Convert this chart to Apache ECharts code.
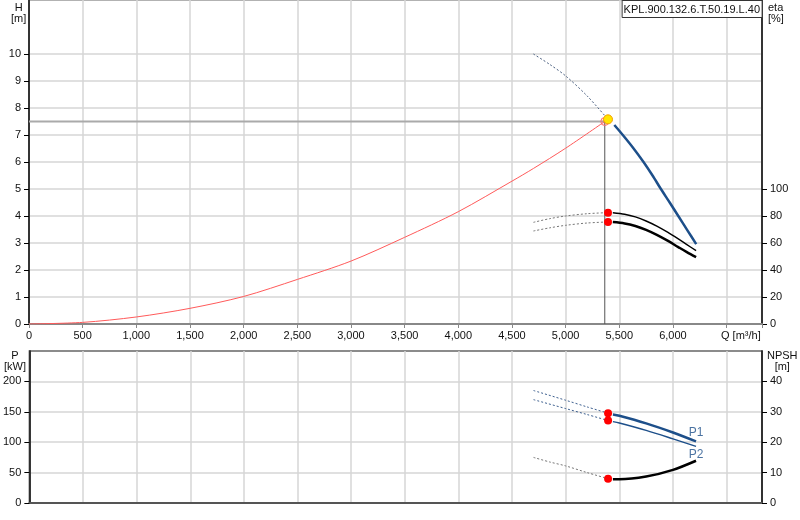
<!DOCTYPE html>
<html>
<head>
<meta charset="utf-8">
<script src="https://cdn.jsdelivr.net/npm/echarts@6/dist/echarts.min.js"></script>
<style>html,body{margin:0;padding:0;background:#fff;}#c{width:800px;height:520px;}</style>
</head>
<body>
<div id="c"></div>
<script>
// ---- data ----
const pumpName = 'KPL.900.132.6.T.50.19.L.40';
const xTickLabels = [0, 500, 1000, 1500, 2000, 2500, 3000, 3500, 4000, 4500, 5000, 5500, 6000];
const hTickLabels = [0, 1, 2, 3, 4, 5, 6, 7, 8, 9, 10];
const etaTickLabels = [0, 20, 40, 60, 80, 100];
const pTickLabels = [0, 50, 100, 150, 200];
const npshTickLabels = [0, 10, 20, 30, 40];

// H curve (m)
const hDotted = [[4700, 10.0], [4850, 9.62], [5000, 9.19], [5200, 8.45], [5395, 7.58]];
const hSolid = [[5454, 7.37], [5533, 7.0], [5630, 6.52], [5726, 6.0], [5810, 5.5], [5888, 5.0], [5970, 4.5], [6050, 4.0], [6135, 3.47], [6217, 2.96]];
// efficiency curves (%)
const eta1Dotted = [[4700, 75.3], [4850, 78.0], [5000, 80.0], [5200, 81.7], [5395, 82.5]];
const eta1Solid = [[5440, 82.4], [5550, 81.3], [5650, 79.3], [5750, 76.3], [5850, 72.5], [5950, 68.0], [6050, 63.0], [6130, 58.8], [6216, 54.3]];
const eta2Dotted = [[4700, 68.9], [4850, 71.2], [5000, 73.1], [5200, 74.8], [5395, 75.6]];
const eta2Solid = [[5440, 75.5], [5550, 74.5], [5650, 72.6], [5750, 69.7], [5850, 66.0], [5950, 61.7], [6050, 57.0], [6130, 53.3], [6216, 49.6]];
// power curves (kW)
const p1Dotted = [[4700, 185], [5000, 169], [5200, 158], [5395, 147.7]];
const p1Solid = [[5440, 145.5], [5500, 143.5], [5750, 131], [6000, 116], [6215, 101.3]];
const p2Dotted = [[4700, 170], [5000, 155.3], [5200, 145.5], [5395, 135.6]];
const p2Solid = [[5440, 133.8], [5500, 131.5], [5750, 119.5], [6000, 105.5], [6215, 93]];
// NPSH (m)
const npshDotted = [[4700, 15.0], [4850, 13.5], [5000, 12.2], [5200, 10.0], [5395, 8.0]];
const npshSolid = [[5440, 7.8], [5500, 7.8], [5750, 8.7], [6000, 10.9], [6215, 13.9]];
// system curve
const sysQ = [0, 500, 1000, 1500, 2000, 2500, 3000, 3500, 4000, 4500, 4700, 5000, 5365];
const sysH = [0, 0.06, 0.26, 0.58, 1.02, 1.65, 2.33, 3.21, 4.16, 5.29, 5.76, 6.51, 7.5];
// required & duty points
const reqQ = 5365, reqH = 7.5;
const dutyQ = 5395, dutyH = 7.58, dutyEta1 = 82.5, dutyEta2 = 75.6, dutyP1 = 147.7, dutyP2 = 135.6, dutyNPSH = 8.0;

// ---- chart ----
const FONT = 'Liberation Sans, Arial, sans-serif';
const TXT = '#111';
const BLUE = '#1d4f8a';
const GRID_C = '#d6d6d6';
const chart = echarts.init(document.getElementById('c'), null, {renderer: 'canvas'});

function fmtNum(v) { return v.toLocaleString('en-US'); }
function dotted(data, xi, yi, color) {
  return {type: 'line', xAxisIndex: xi, yAxisIndex: yi, data: data, smooth: 0.3, symbol: 'none', silent: true,
    lineStyle: {color: color, width: 1, type: [2, 2]}, z: 3};
}
function solid(data, xi, yi, color, w) {
  return {type: 'line', xAxisIndex: xi, yAxisIndex: yi, data: data, smooth: 0.3, symbol: 'none', silent: true,
    lineStyle: {color: color, width: w}, z: 4};
}
function dot(pt, xi, yi) {
  return {type: 'scatter', xAxisIndex: xi, yAxisIndex: yi, data: [pt], symbolSize: 8, silent: true,
    itemStyle: {color: '#ff0000', opacity: 1}, z: 6};
}
function endLabel(data, text, pos, xi, yi) {
  return {type: 'scatter', xAxisIndex: xi, yAxisIndex: yi, data: [data[data.length - 1]], symbolSize: 1, silent: true,
    itemStyle: {color: 'rgba(0,0,0,0)'},
    label: {show: true, formatter: text, position: pos, distance: 2, color: BLUE, fontFamily: FONT, fontSize: 12}, z: 8};
}

const xCommon = {
  type: 'value', min: 0, max: 6830, interval: 500,
  splitLine: {show: true, lineStyle: {color: GRID_C, width: 1.5}}
};

const option = {
  animation: false,
  backgroundColor: '#fff',
  title: {
    text: pumpName, right: 38, top: 0,
    backgroundColor: '#fff', borderColor: '#333', borderWidth: 1, padding: [4, 2, 3, 2],
    textStyle: {fontFamily: FONT, fontSize: 11, fontWeight: 'normal', color: '#111'}, z: 10
  },
  grid: [
    {left: 29, top: 0, width: 733, height: 324, show: true, borderColor: '#999', borderWidth: 1.5, backgroundColor: 'transparent'},
    {left: 29, top: 351, width: 733, height: 152, show: true, borderColor: '#666', borderWidth: 1.5, backgroundColor: 'transparent'}
  ],
  xAxis: [
    Object.assign({}, xCommon, {
      gridIndex: 0,
      axisLine: {show: true, onZero: false, lineStyle: {color: '#888', width: 2}},
      axisTick: {show: true, length: 4, lineStyle: {color: '#888'}},
      axisLabel: {show: true, customValues: xTickLabels, margin: 6, color: TXT, fontFamily: FONT, fontSize: 11,
        formatter: v => (v % 500 === 0 && v <= 6000) ? fmtNum(v) : ''}
    }),
    Object.assign({}, xCommon, {
      gridIndex: 1,
      axisLine: {show: true, onZero: false, lineStyle: {color: '#555', width: 2}},
      axisTick: {show: false},
      axisLabel: {show: false}
    })
  ],
  yAxis: [
    {type: 'value', gridIndex: 0, min: 0, max: 12, interval: 1, position: 'left',
      axisLine: {show: true, lineStyle: {color: '#000', width: 1.5}},
      axisTick: {show: true, customValues: hTickLabels, length: 5, lineStyle: {color: '#000'}},
      axisLabel: {customValues: hTickLabels, margin: 8, color: TXT, fontFamily: FONT, fontSize: 11,
        formatter: v => v <= 10 ? String(v) : ''},
      splitLine: {show: true, lineStyle: {color: GRID_C, width: 1.5}}},
    {type: 'value', gridIndex: 0, min: 0, max: 240, interval: 20, position: 'right',
      axisLine: {show: true, lineStyle: {color: '#000', width: 1.5}},
      axisTick: {show: true, customValues: etaTickLabels, length: 5, lineStyle: {color: '#000'}},
      axisLabel: {customValues: etaTickLabels, margin: 8, color: TXT, fontFamily: FONT, fontSize: 11,
        formatter: v => v <= 100 ? String(v) : ''},
      splitLine: {show: false}},
    {type: 'value', gridIndex: 1, min: 0, max: 250, interval: 50, position: 'left',
      axisLine: {show: true, lineStyle: {color: '#000', width: 1.5}},
      axisTick: {show: true, customValues: pTickLabels, length: 5, lineStyle: {color: '#000'}},
      axisLabel: {customValues: pTickLabels, margin: 8, color: TXT, fontFamily: FONT, fontSize: 11,
        formatter: v => v <= 200 ? String(v) : ''},
      splitLine: {show: true, lineStyle: {color: GRID_C, width: 1.5}}},
    {type: 'value', gridIndex: 1, min: 0, max: 50, interval: 10, position: 'right',
      axisLine: {show: true, lineStyle: {color: '#000', width: 1.5}},
      axisTick: {show: true, customValues: npshTickLabels, length: 5, lineStyle: {color: '#000'}},
      axisLabel: {customValues: npshTickLabels, margin: 8, color: TXT, fontFamily: FONT, fontSize: 11,
        formatter: v => v <= 40 ? String(v) : ''},
      splitLine: {show: false}}
  ],
  graphic: [
    {type: 'text', left: 11, top: 2, style: {text: 'H\n[m]', fill: TXT, font: '11px ' + FONT, textAlign: 'center', lineHeight: 11.5, x: 6}},
    {type: 'text', left: 768, top: 2, style: {text: 'eta\n[%]', fill: TXT, font: '11px ' + FONT, lineHeight: 11.5}},
    {type: 'text', left: 4, top: 350, style: {text: 'P\n[kW]', fill: TXT, font: '11px ' + FONT, textAlign: 'center', lineHeight: 11, x: 10}},
    {type: 'text', left: 767, top: 350, style: {text: 'NPSH\n[m]', fill: TXT, font: '11px ' + FONT, textAlign: 'center', lineHeight: 11, x: 14}},
    {type: 'text', left: 721, top: 330, style: {text: 'Q [m³/h]', fill: TXT, font: '11px ' + FONT}}
  ],
  series: [
    // crosshair at required point
    {type: 'line', xAxisIndex: 0, yAxisIndex: 0, data: [[0, reqH], [reqQ, reqH]], symbol: 'none', silent: true,
      lineStyle: {color: '#aaa', width: 2}, z: 2},
    {type: 'line', xAxisIndex: 0, yAxisIndex: 0, data: [[reqQ, reqH], [reqQ, 0]], symbol: 'none', silent: true,
      lineStyle: {color: '#555', width: 1}, z: 2},
    // system curve
    {type: 'line', xAxisIndex: 0, yAxisIndex: 0, data: sysQ.map((q, i) => [q, sysH[i]]), smooth: 0.3, symbol: 'none', silent: true,
      lineStyle: {color: '#ff5a5a', width: 1}, z: 3},
    {type: 'scatter', xAxisIndex: 0, yAxisIndex: 0, data: [[reqQ, reqH]], symbolSize: 8, silent: true,
      itemStyle: {color: 'rgba(255,80,80,0.15)', borderColor: '#ff7070', borderWidth: 1, opacity: 1}, z: 5},
    // H curve
    dotted(hDotted, 0, 0, '#4a5f80'),
    solid(hSolid, 0, 0, BLUE, 2.5),
    // eta curves
    dotted(eta1Dotted, 0, 1, '#777'),
    solid(eta1Solid, 0, 1, '#000', 1.4),
    dotted(eta2Dotted, 0, 1, '#777'),
    solid(eta2Solid, 0, 1, '#000', 2.5),
    // power curves
    dotted(p1Dotted, 1, 2, '#3d5f8f'),
    solid(p1Solid, 1, 2, BLUE, 2.5),
    endLabel(p1Solid, 'P1', 'top', 1, 2),
    dotted(p2Dotted, 1, 2, '#3d5f8f'),
    solid(p2Solid, 1, 2, BLUE, 1.4),
    endLabel(p2Solid, 'P2', 'bottom', 1, 2),
    // NPSH
    dotted(npshDotted, 1, 3, '#777'),
    solid(npshSolid, 1, 3, '#000', 2.5),
    // duty points
    {type: 'scatter', xAxisIndex: 0, yAxisIndex: 0, data: [[dutyQ, dutyH]], symbolSize: 9, silent: true,
      itemStyle: {color: '#ffe600', borderColor: '#f5a000', borderWidth: 1, opacity: 1}, z: 7},
    dot([dutyQ, dutyEta1], 0, 1),
    dot([dutyQ, dutyEta2], 0, 1),
    dot([dutyQ, dutyP1], 1, 2),
    dot([dutyQ, dutyP2], 1, 2),
    dot([dutyQ, dutyNPSH], 1, 3)
  ]
};
chart.setOption(option);
</script>
</body>
</html>
